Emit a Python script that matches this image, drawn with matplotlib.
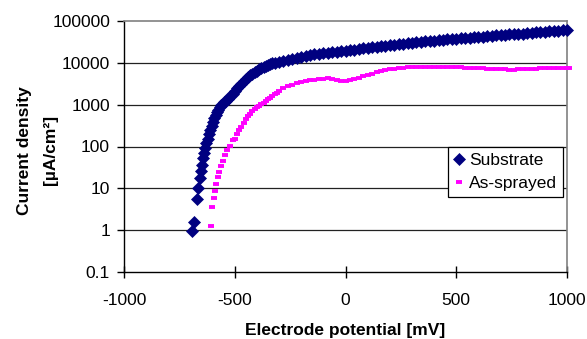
import matplotlib
matplotlib.use("Agg")
import matplotlib.pyplot as plt
from matplotlib.ticker import FixedLocator, NullLocator

# ----------------- Data -----------------

# Substrate: potential [mV] and current density [uA/cm2]
substrate_mv = [
    -691, -683, -672, -665, -658, -653, -648, -643, -638, -633,
    -628, -622, -616, -610, -604, -598, -592, -586, -580, -574,
    -567, -560, -550, -540, -530, -520, -510, -500, -490, -480,
    -470, -460, -450, -440, -430, -420, -410, -400, -390, -380,
    -370, -360, -350, -340, -330, -320, -300, -280, -260, -240,
    -220, -200, -180, -160, -140, -120, -100, -80, -60, -40,
    -20, 0, 20, 40, 60, 80, 100, 120, 140, 160,
    180, 200, 220, 240, 260, 280, 300, 320, 340, 360,
    380, 400, 420, 440, 460, 480, 500, 520, 540, 560,
    580, 600, 620, 640, 660, 680, 700, 720, 740, 760,
    780, 800, 820, 840, 860, 880, 900, 920, 940, 960,
    980, 1000,
]
substrate_cd = [
    0.95, 1.6, 5.5, 10, 18, 26, 37, 52, 70, 92,
    118, 150, 195, 245, 310, 390, 470, 560, 660, 760,
    880, 1000, 1130, 1250, 1400, 1600, 1800, 2100, 2450, 2800,
    3200, 3600, 4000, 4500, 5000, 5500, 6000, 6500, 7000, 7500,
    8000, 8500, 8900, 9300, 9700, 10000, 10700, 11350, 12000, 12600,
    13300, 14100, 14800, 15300, 15850, 16600, 17200, 17650, 18100, 18550,
    19000, 19500, 20100, 20800, 21500, 22200, 22900, 23550, 24200, 24900,
    25600, 26300, 27000, 27800, 28600, 29400, 30200, 30900, 31600, 32400,
    33100, 33900, 34700, 35500, 36300, 37200, 38000, 38700, 39400, 40200,
    40900, 41700, 42600, 43500, 44400, 45400, 46400, 47200, 47900, 48600,
    49300, 50100, 51200, 52200, 53200, 54300, 55500, 56400, 57300, 58300,
    59300, 60300,
]

# As-sprayed coating
sprayed_mv = [
    -607, -601, -595, -589, -584, -577, -571, -563, -554, -544,
    -534, -521, -507, -500, -490, -480, -470, -460, -450, -440,
    -430, -420, -410, -400, -390, -380, -370, -360, -350, -340,
    -330, -320, -310, -300, -280, -260, -240, -220, -200, -180,
    -160, -140, -120, -100, -80, -60, -40, -20, 0, 20,
    40, 60, 80, 100, 120, 140, 160, 180, 200, 220,
    240, 260, 280, 300, 320, 340, 360, 380, 400, 420,
    440, 460, 480, 500, 520, 540, 560, 580, 600, 620,
    640, 660, 680, 700, 720, 740, 760, 780, 800, 820,
    840, 860, 880, 900, 920, 940, 960, 980, 1000, 1010,
]
sprayed_cd = [
    1.25, 3.6, 5.8, 8.7, 13, 19, 25, 34, 46, 63,
    82, 105, 140, 155, 195, 245, 300, 370, 450, 530,
    610, 700, 780, 860, 950, 1030, 1120, 1230, 1350, 1470,
    1600, 1750, 1900, 2100, 2450, 2750, 3000, 3250, 3500, 3700,
    3850, 3950, 4050, 4150, 4250, 4100, 3800, 3650, 3700, 3900,
    4150, 4450, 4750, 5100, 5500, 5900, 6300, 6700, 7000, 7300,
    7500, 7700, 7800, 7900, 8000, 8050, 8100, 8100, 8100, 8100,
    8050, 8000, 7950, 7900, 7800, 7700, 7600, 7500, 7450, 7400,
    7300, 7200, 7100, 7000, 6950, 6900, 6900, 6950, 7050, 7150,
    7250, 7300, 7350, 7400, 7450, 7500, 7550, 7550, 7550, 7600,
]

x_ticks = [-1000, -500, 0, 500, 1000]
y_ticks = [0.1, 1, 10, 100, 1000, 10000, 100000]
y_tick_labels = ["0.1", "1", "10", "100", "1000", "10000", "100000"]

# ----------------- Figure -----------------

plt.rcParams["font.family"] = ["Liberation Sans", "DejaVu Sans"]
FS = 12.5

fig = plt.figure(figsize=(5.87, 3.39), dpi=100)
ax = fig.add_axes([124 / 587, 67 / 339, 443 / 587, 251 / 339])

ax.plot(substrate_mv, substrate_cd, linestyle="none", marker="D",
        markersize=6.3, color="#000080", mec="#000080", mew=0.5,
        clip_on=False, label="Substrate", zorder=3)
ax.plot(sprayed_mv, sprayed_cd, linestyle="none", marker="_",
        markersize=5.0, mew=2.8, color="#FF00FF",
        clip_on=False, label="As-sprayed", zorder=3)

ax.set_yscale("log")
ax.set_xlim(-1000, 1000)
ax.set_ylim(0.1, 100000)
ax.yaxis.set_major_locator(FixedLocator(y_ticks))
ax.yaxis.set_minor_locator(NullLocator())
ax.set_yticklabels(y_tick_labels)
ax.set_xticks(x_ticks)
ax.set_xticklabels([str(v) for v in x_ticks])

# gridlines on decades only
for v in y_ticks[1:-1]:
    ax.axhline(v, color="#222222", lw=0.9, zorder=1)

for side in ["top", "right"]:
    ax.spines[side].set_color("#808080")
    ax.spines[side].set_linewidth(1.2)
for side in ["left", "bottom"]:
    ax.spines[side].set_color("black")
    ax.spines[side].set_linewidth(1.0)

ax.tick_params(axis="y", direction="out", length=5, width=1, labelsize=FS, pad=5)
ax.tick_params(axis="x", direction="inout", length=9, width=1, labelsize=FS, pad=10.5)

ax.set_xlabel("Electrode potential [mV]", fontsize=FS, fontweight="bold", labelpad=11)
ax.set_ylabel("Current density\n[µA/cm²]", fontsize=FS, fontweight="bold",
              linespacing=1.95)
ax.yaxis.set_label_coords((58 - 124) / 443, 0.485)

leg = ax.legend(loc="upper right", bbox_to_anchor=(563 / 587, 1 - 147 / 339),
                bbox_transform=fig.transFigure, fontsize=FS, frameon=True,
                fancybox=False, edgecolor="black", framealpha=1,
                borderpad=0.35, handlelength=0.5, handletextpad=0.35,
                labelspacing=0.45, borderaxespad=0)
leg.get_frame().set_linewidth(0.9)
leg.set_zorder(5)

plt.savefig("out.png", dpi=100)
plt.close()
